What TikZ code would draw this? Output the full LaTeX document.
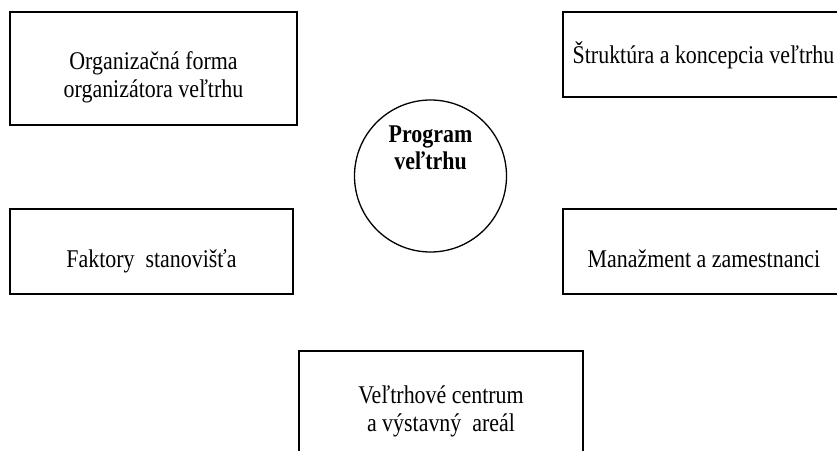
\documentclass[tikz,border=0pt]{standalone}
\usepackage{fontspec}
\setmainfont{Liberation Serif}[FakeStretch=0.86]
\usetikzlibrary{positioning}

\begin{document}
\begin{tikzpicture}[
  x=1pt, y=-1pt,
  every node/.style={font=\fontsize{25.5}{28}\selectfont},
  oblast/.style={
    rectangle, draw=black, line width=1.3pt,
    minimum width=285pt, minimum height=85pt,
    align=center, inner sep=0pt, text depth=6pt
  },
  kruh/.style={
    circle, draw=black, line width=1.3pt,
    minimum size=152pt, inner sep=0pt,
    font=\fontsize{25.5}{27}\selectfont\bfseries, align=center
  }
]
  \useasboundingbox (0,0) rectangle (837,450);

  % --- Stred ---
  \node[kruh, text height=0pt, text depth=14pt] (program) at (430.5,176) {Program\\veľtrhu};

  % --- Horne oblasti ---
  \node[oblast, minimum width=287pt, minimum height=113pt, text height=63pt]
    (organizacia) at (153.5,68.5) {Organizačná forma\\organizátora veľtrhu};
  \node[oblast, minimum width=281pt, text height=23pt]
    (struktura) at (703.5,54.5) {Štruktúra a koncepcia veľtrhu};

  % --- Stredne oblasti ---
  \node[oblast, minimum width=283pt, text height=37pt]
    (faktory) at (151.5,251.5) {Faktory\ \ stanovišťa};
  \node[oblast, minimum width=282pt, text height=37pt]
    (manazment) at (704,251.5) {Manažment a zamestnanci};

  % --- Dolna oblast ---
  \node[oblast, minimum width=284pt, minimum height=119pt, text height=47pt]
    (centrum) at (441,410.5) {Veľtrhové centrum\\a výstavný\ \ areál};
\end{tikzpicture}
\end{document}
